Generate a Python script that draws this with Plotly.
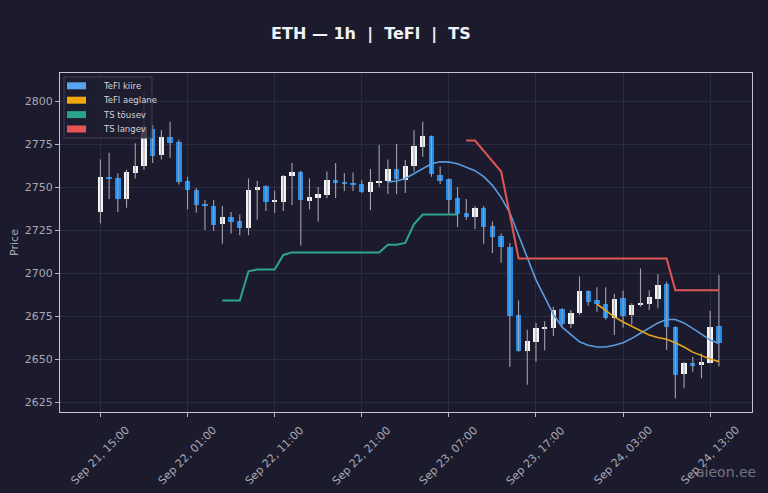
import pandas as pd
import plotly.graph_objects as go

# hourly ETH candles, Sep 21 15:00 -> Sep 24 14:00
start = "2025-09-21 15:00"
opens = [2735.5, 2755.5, 2755, 2743, 2758, 2762, 2784, 2768.5, 2779, 2776,
         2753.5, 2748, 2740, 2739, 2728.5, 2732.5, 2730, 2726, 2748, 2750.5,
         2741.3, 2741.5, 2756.3, 2759, 2742, 2743.6, 2745.3, 2754, 2753, 2752.2,
         2751.7, 2747.3, 2752.8, 2753.5, 2760.5, 2754, 2762, 2773.5, 2779.6, 2757,
         2754.6, 2743.6, 2735, 2732.7, 2737.8, 2727.3, 2721.5, 2715.3, 2675.6, 2654.8,
         2660, 2667.4, 2668, 2679, 2670.3, 2676.5, 2689.7, 2684.3, 2682, 2673.7,
         2685.3, 2675.6, 2681.2, 2682, 2684.7, 2693.6, 2668.4, 2641.3, 2647.5, 2646.5,
         2647.9, 2669]
highs = [2766, 2770, 2758, 2760, 2775.5, 2805, 2786, 2783, 2788, 2777.5,
         2756, 2749.5, 2742.5, 2742.5, 2739, 2735.5, 2734, 2755, 2753.5, 2751,
         2748, 2757, 2764, 2759.5, 2755, 2750, 2759, 2764, 2758, 2758.5,
         2754, 2760.5, 2774.5, 2766, 2775, 2765.7, 2783, 2788, 2780, 2762,
         2755, 2750, 2743, 2739, 2739, 2730, 2723, 2717.4, 2684, 2667,
         2671, 2672, 2680.4, 2679.5, 2678.5, 2698, 2690, 2691.7, 2691.7, 2688,
         2689.7, 2682.4, 2702.7, 2690, 2699.4, 2695, 2669, 2648.4, 2651.3, 2653.3,
         2678, 2699]
lows = [2729, 2743, 2735.5, 2738, 2755, 2760, 2764, 2766, 2767, 2751.5,
        2737, 2735, 2725, 2724.5, 2717, 2723, 2722, 2722, 2731, 2736,
        2735, 2736, 2739.5, 2716, 2737, 2730, 2743.5, 2743.6, 2747.7, 2747.7,
        2746.5, 2736.6, 2750, 2746, 2746, 2746.5, 2759, 2767.6, 2756, 2751.7,
        2734, 2726.7, 2731, 2725.6, 2717, 2711.6, 2706, 2645.5, 2654.3, 2635,
        2648.4, 2655, 2663.4, 2669, 2668, 2675.6, 2681, 2677.5, 2673, 2664,
        2668.4, 2670, 2680.4, 2678.5, 2679.5, 2655.2, 2627, 2633, 2642.6, 2638.8,
        2647.5, 2645.6]
closes = [2755.8, 2755, 2743, 2758.5, 2762, 2785, 2768, 2779, 2775.5, 2753,
          2748, 2739.5, 2739.5, 2728, 2732.5, 2729.5, 2726, 2748, 2750, 2741.5,
          2742, 2756.5, 2758.5, 2742.5, 2744.2, 2746, 2754, 2752.2, 2752.2, 2751.5,
          2747, 2753, 2753.7, 2760.5, 2754.6, 2762, 2774, 2779.6, 2757.6, 2753.7,
          2742.4, 2734.3, 2732.7, 2737.8, 2727, 2721, 2715, 2675, 2654.8, 2660.6,
          2668, 2668.6, 2678.5, 2670.3, 2677, 2689.7, 2683.3, 2682, 2673.7, 2684.7,
          2675, 2681.4, 2682.4, 2686, 2693, 2668.4, 2640.7, 2647.5, 2646, 2648,
          2668.8, 2659.3]

# indicator lines (start index into the candles)
tefl_fast_start = 33
tefl_fast = [2753, 2753.5, 2755, 2758, 2761, 2763.5, 2764.7, 2764.5, 2763.5, 2761.5,
             2759.5, 2756, 2751, 2744, 2735, 2722, 2709, 2696, 2686, 2676,
             2668.5, 2664, 2660, 2658, 2657, 2657, 2658, 2659.5, 2662, 2665,
             2668, 2671, 2673, 2673, 2671, 2668, 2664.5, 2661, 2659]
tefl_slow_start = 57
tefl_slow = [2682, 2678, 2674.5, 2671.5, 2669, 2666.5, 2664, 2662.5, 2661.5, 2659.5,
             2657, 2654, 2652, 2650, 2648.5]
ts_up_start = 14
ts_up = [2684, 2684, 2684, 2701, 2702, 2702, 2702, 2710.5, 2712, 2712,
         2712, 2712, 2712, 2712, 2712, 2712, 2712, 2712, 2712, 2716.5,
         2716.5, 2717.5, 2728.5, 2734, 2734, 2734, 2734, 2734]
ts_down_start = 42
ts_down = [2777, 2777, 2771, 2765, 2759, 2734] + [2708.5] * 18 + [2690] * 6

tick_times = ["2025-09-21 15:00", "2025-09-22 01:00", "2025-09-22 11:00", "2025-09-22 21:00",
              "2025-09-23 07:00", "2025-09-23 17:00", "2025-09-24 03:00", "2025-09-24 13:00"]
tick_labels = ["Sep 21, 15:00", "Sep 22, 01:00", "Sep 22, 11:00", "Sep 22, 21:00",
               "Sep 23, 07:00", "Sep 23, 17:00", "Sep 24, 03:00", "Sep 24, 13:00"]
y_ticks = [2625, 2650, 2675, 2700, 2725, 2750, 2775, 2800]

BG = "#1c1b2e"
GRID = "#2b2b42"
TXT = "#a8a8b4"
UP = "#f4f4f4"
DOWN = "#1e8ef0"
FONT = "DejaVu Sans"

W, H = 768, 493
ML, MR, MT, MB = 60, 16, 73, 81
PW, PH = W - ML - MR, H - MT - MB


def px(x):  # pixel -> paper
    return (x - ML) / PW


def py(y):
    return (H - MB - y) / PH


times = pd.date_range(start, periods=len(opens), freq="h")

# wicks as one broken line
wx, wy = [], []
for t, lo, hi in zip(times, lows, highs):
    wx += [t, t, None]
    wy += [lo, hi, None]

bases = [min(o, c) for o, c in zip(opens, closes)]
heights = [max(abs(c - o), 0.9) for o, c in zip(opens, closes)]
colors = [UP if c >= o else DOWN for o, c in zip(opens, closes)]

fig = go.Figure()
fig.add_trace(go.Scatter(x=wx, y=wy, mode="lines", line=dict(color="#a2a2ac", width=1.1),
                         showlegend=False, hoverinfo="skip"))
fig.add_trace(go.Bar(x=times, y=heights, base=bases, width=0.62 * 3600 * 1000,
                     marker=dict(color=colors, line=dict(width=0)), showlegend=False))

lines = [
    ("TeFl kiire", "#5b9be0", "#5aa5f0", 1.6, tefl_fast_start, tefl_fast),
    ("TeFl aeglane", "#e4a31c", "#f0a80c", 1.6, tefl_slow_start, tefl_slow),
    ("TS tõusev", "#2ea68b", "#2aa388", 2.0, ts_up_start, ts_up),
    ("TS langev", "#e05656", "#e85454", 2.0, ts_down_start, ts_down),
]
for name, col, pcol, w, s, vals in lines:
    fig.add_trace(go.Scatter(x=times[s:s + len(vals)], y=vals, mode="lines", name=name,
                             line=dict(color=col, width=w), showlegend=False))

# hand-made legend box (matplotlib style patches)
fig.add_shape(type="rect", xref="paper", yref="paper", layer="above",
              x0=px(64), x1=px(152), y0=py(138), y1=py(77),
              fillcolor="rgba(30,29,48,0.82)", line=dict(color="#3e3e56", width=1))
for k, (name, col, pcol, w, s, vals) in enumerate(lines):
    yc = 85.8 + 14.4 * k
    fig.add_shape(type="rect", xref="paper", yref="paper", layer="above",
                  x0=px(67), x1=px(86), y0=py(yc + 3.5), y1=py(yc - 3.5),
                  fillcolor=pcol, line=dict(width=0))
    fig.add_annotation(x=px(101), y=py(yc), xref="paper", yref="paper", text=name,
                       showarrow=False, xanchor="left", yanchor="middle",
                       font=dict(family=FONT, size=8.5, color="#d4d4dc"))

# rotated tick labels centred under ticks
for t, lab in zip(tick_times, tick_labels):
    fig.add_annotation(x=t, y=0, xref="x", yref="paper", text=lab, textangle=-45,
                       showarrow=False, xanchor="center", yanchor="top", yshift=-9,
                       font=dict(family=FONT, size=11, color=TXT))

fig.add_annotation(x=px(758), y=py(472), xref="paper", yref="paper", text="aieon.ee",
                   showarrow=False, xanchor="right", yanchor="middle",
                   font=dict(family=FONT, size=14, color="rgba(190,190,200,0.55)"))

x0 = times[0] - pd.Timedelta(hours=4.64)
x1 = times[0] + pd.Timedelta(hours=74.8)

fig.update_layout(
    width=W, height=H,
    margin=dict(l=ML, r=MR, t=MT, b=MB, autoexpand=False),
    paper_bgcolor=BG, plot_bgcolor=BG,
    font=dict(family=FONT, size=11, color=TXT),
    title=dict(text="ETH — 1h \u00a0|\u00a0 TeFl \u00a0|\u00a0 TS", x=0.483, xanchor="center",
               y=1 - 33 / H, yanchor="middle", xref="container", yref="container",
               font=dict(family=FONT, size=16, color="#f2f2f6", weight="bold")),
    bargap=0,
    showlegend=False,
)
fig.update_xaxes(type="date", range=[x0, x1], tickvals=tick_times, showticklabels=False,
                 ticks="outside", ticklen=4, tickcolor="#b8b8c2", automargin=False,
                 showgrid=True, gridcolor=GRID, gridwidth=1,
                 showline=True, mirror=True, linecolor="#c4c4cc", linewidth=1, zeroline=False)
fig.update_yaxes(range=[2619.2, 2816.3], tickvals=y_ticks, ticks="outside", ticklen=4,
                 tickcolor="#b8b8c2", tickfont=dict(family=FONT, size=11, color=TXT),
                 automargin=False,
                 showgrid=True, gridcolor=GRID, gridwidth=1,
                 showline=True, mirror=True, linecolor="#c4c4cc", linewidth=1, zeroline=False,
                 title=dict(text="Price", standoff=3, font=dict(family=FONT, size=11, color=TXT)))

fig.write_html("out.html", config={"displayModeBar": False},
               post_script="document.body.style.margin='0';document.body.style.background='%s';" % BG)
